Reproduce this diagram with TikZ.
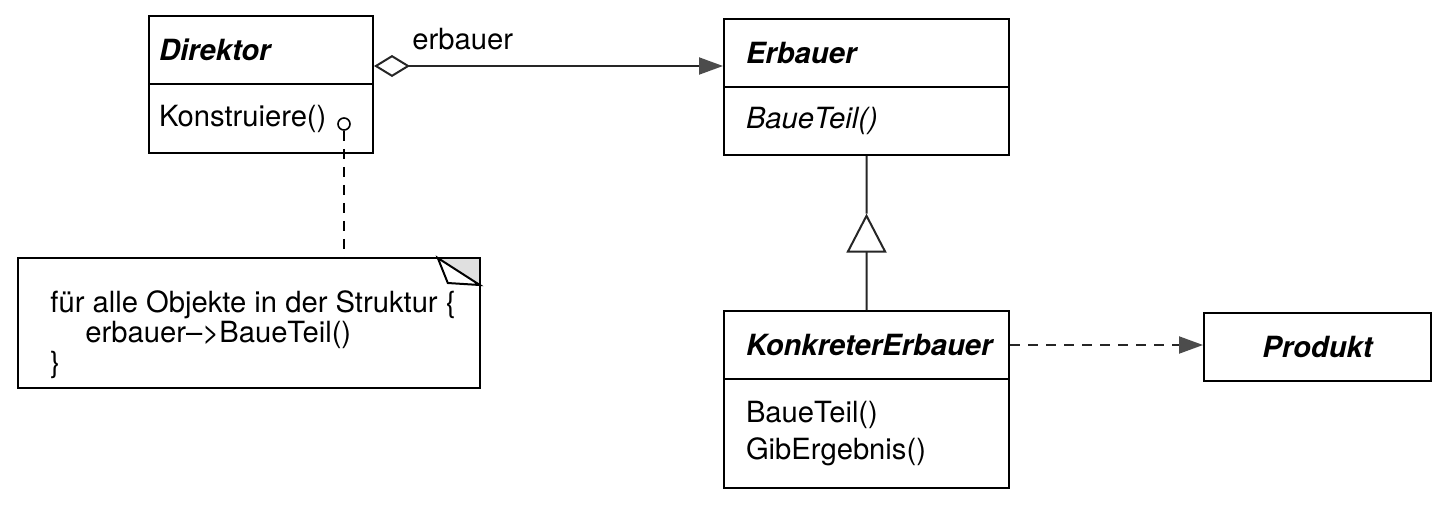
\documentclass[tikz,border=0pt]{standalone}
\usepackage{fontspec}
\setmainfont{TeX Gyre Heros}
\usetikzlibrary{arrows.meta,positioning,calc}

\tikzset{
  uml/.style={draw, line width=1pt, align=left, inner ysep=0pt,
    font=\fontsize{14.6}{18.5}\selectfont},
  umlname/.style={uml, minimum height=34pt,
    font=\fontsize{14.6}{18.5}\selectfont\bfseries\itshape},
  umlops/.style={uml},
  assoc/.style={line width=1pt, draw=black!85},
  aggregation/.style={assoc,
    {Diamond[open,length=18pt,width=11pt]}-{Triangle[length=12pt,width=8.5pt,color=black!70]}},
  generalization/.style={assoc, -{Triangle[open,length=19.5pt,width=20pt,fill=white]}},
  dependency/.style={assoc, dash pattern=on 5pt off 4pt,
    -{Triangle[length=12pt,width=8.5pt,color=black!70]}},
  notelink/.style={line width=0.8pt, dash pattern=on 5pt off 4pt},
}

\begin{document}
\begin{tikzpicture}[x=0.5pt,y=-0.5pt]
  \useasboundingbox (0,0) rectangle (1438,504);

  % Direktor
  \node[umlname, text width=102pt, inner xsep=5pt, anchor=north west] (direktor) at (148,15) {Direktor};
  \node[umlops, text width=102pt, inner xsep=5pt, minimum height=34.5pt, below=-1pt of direktor] (direktorops) {Konstruiere()};
  \node[circle, draw, line width=0.8pt, minimum size=6pt, inner sep=0pt] (konstrdot)
    at ([xshift=-15pt,yshift=-2.75pt]direktorops.east) {};

  % Erbauer
  \node[umlname, text width=120.5pt, inner xsep=11pt, anchor=north west] (erbauer) at (723,18) {Erbauer};
  \node[umlops, text width=120.5pt, inner xsep=11pt, minimum height=34pt, below=-1pt of erbauer, font=\fontsize{14.6}{18.5}\selectfont\itshape] (erbauerops) {BaueTeil()};

  % KonkreterErbauer
  \node[umlname, text width=120.5pt, inner xsep=11pt, anchor=north west] (konkret) at (723,310) {KonkreterErbauer};
  \node[umlops, text width=120.5pt, inner xsep=11pt, minimum height=54.5pt, below=-1pt of konkret] (konkretops) {BaueTeil()\\GibErgebnis()};

  % Produkt
  \node[umlname, minimum width=113.5pt, align=center, anchor=north west] (produkt) at (1203,312) {Produkt};

  % Notiz
  \node[minimum width=230.5pt, minimum height=64.5pt, inner sep=0pt, anchor=north west] (note) at (18,258) {};
  \fill[black!12] ([xshift=-21pt]note.north east) -- (note.north east) -- ([yshift=-13.5pt]note.north east) -- cycle;
  \draw[line width=1pt] (note.north west) rectangle (note.south east);
  \draw[line width=1pt, fill=white] ([xshift=-21pt]note.north east) -- ([xshift=-16pt,yshift=-12.5pt]note.north east)
    -- ([yshift=-13.5pt]note.north east) -- cycle;
  \node[align=left, inner sep=0pt, anchor=base west, font=\fontsize{14.6}{13.5}\selectfont] (notetext)
    at ([xshift=16pt,yshift=-57pt]note.north west)
    {für alle Objekte in der Struktur \{\\\hspace*{17.5pt}erbauer–>BaueTeil()\\\}};

  % Verbindungen
  \coordinate (aggstart) at ([yshift=-8pt]direktor.east);
  \draw[aggregation] (aggstart) -- (aggstart -| erbauer.west);
  \node[anchor=base west, inner sep=0pt, font=\fontsize{14.6}{18.5}\selectfont] (erbauerlabel)
    at ([xshift=19pt,yshift=8.5pt]aggstart) {erbauer};

  \coordinate (tritip) at ($(konkret.north)!0.626!(erbauerops.south)$);
  \draw[generalization] (konkret.north) -- (tritip);
  \draw[assoc] (tritip) -- (erbauerops.south);

  \draw[dependency] (konkret.east) -- (konkret.east -| produkt.west);

  \draw[notelink] (konstrdot) -- (konstrdot |- note.north);
\end{tikzpicture}
\end{document}
